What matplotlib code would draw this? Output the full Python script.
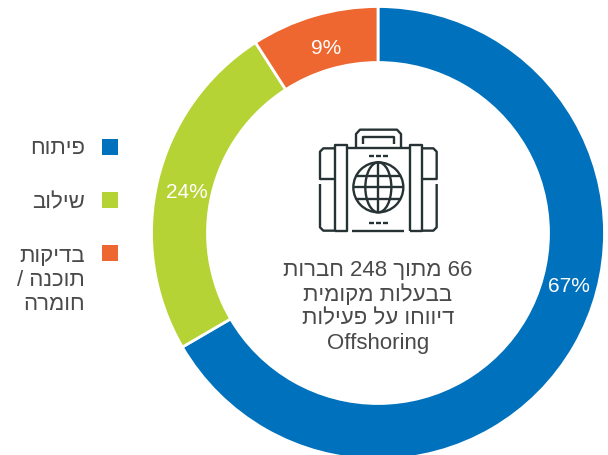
import matplotlib
matplotlib.use("Agg")
import matplotlib.pyplot as plt
from matplotlib.patches import Rectangle, Circle, Ellipse

plt.rcParams['font.family'] = ['Liberation Sans', 'DejaVu Sans']

categories = ["פיתוח", "שילוב", "בדיקות\nתוכנה /\nחומרה"]
values = [66.6, 24.3, 9.1]
colors = ["#0071BC", "#B5D334", "#EE6730"]
center_lines = ["66 מתוך 248 חברות", "בבעלות מקומית", "דיווחו על פעילות", "Offshoring"]

H = 456
TEXT = "#4a4a4a"
ICON = "#263233"


def visual(line):
    # matplotlib has no bidi, so hebrew has to be flipped by hand
    words = []
    for w in line.split(" "):
        if any("\u0590" <= ch <= "\u05ff" for ch in w):
            w = w[::-1]
        words.append(w)
    return " ".join(words[::-1])


def y(py):
    return H - py


def icon_line(ax, xs, ys):
    # coords are from the 3x zoom of the icon
    ax.plot([300 + a / 3 for a in xs], [y(120 + b / 3) for b in ys],
            color=ICON, lw=1.7, solid_joinstyle="round", solid_capstyle="butt", zorder=4)


fig = plt.figure(figsize=(6.08, 4.56), dpi=100)
ax = fig.add_axes([0, 0, 1, 1])

ax.pie(values, colors=colors, startangle=90, counterclock=False,
       center=(378, y(234)), radius=226.5, frame=True,
       wedgeprops=dict(width=56, edgecolor="white", linewidth=2))
ax.set_xlim(0, 608)
ax.set_ylim(0, H)
ax.set_aspect("equal")
ax.axis("off")

# percent labels
pct_pos = [(569, 287), (187, 193), (326, 48)]
for v, (px, py) in zip(values, pct_pos):
    ax.text(px, y(py), "%.0f%%" % v, color="white", fontsize=15, ha="center", va="center")

# legend on the left
square_tops = [140, 193, 246]
for i, cat in enumerate(categories):
    ax.add_patch(Rectangle((102, y(square_tops[i] + 16)), 16, 16, color=colors[i], lw=0))
for i, py in zip([0, 1], [149, 203]):
    ax.text(85, y(py), visual(categories[i]), color=TEXT, fontsize=16, ha="right", va="center")
for line, py in zip(categories[2].split("\n"), [256, 281, 305]):
    ax.text(85, y(py), visual(line), color=TEXT, fontsize=16, ha="right", va="center")

# center text
for line, py in zip(center_lines, [271, 295, 319, 343]):
    ax.text(378, y(py), visual(line), color=TEXT, fontsize=16, ha="center", va="center")

# suitcase icon
icon_line(ax, [168, 168, 180, 291, 303, 303], [88, 45, 32, 32, 45, 88])
icon_line(ax, [188, 188, 282, 282], [75, 55, 55, 75])
icon_line(ax, [105, 70, 60, 60, 105], [88, 88, 98, 180, 180])
icon_line(ax, [60, 60, 70, 105], [195, 325, 335, 335])
icon_line(ax, [365, 400, 410, 410, 365], [88, 88, 98, 180, 180])
icon_line(ax, [410, 410, 400, 365], [195, 325, 335, 335])
icon_line(ax, [105, 105, 140, 140, 105], [335, 77, 77, 335, 335])
icon_line(ax, [330, 330, 365, 365, 330], [335, 77, 77, 335, 335])
icon_line(ax, [140, 330], [88, 88])
icon_line(ax, [157, 312], [335, 335])
for zy in [112, 312]:
    for x0 in [207, 228, 250]:
        icon_line(ax, [x0, x0 + 15], [zy, zy])

gx, gy = 300 + 235 / 3, y(120 + 205 / 3)
ax.add_patch(Circle((gx, gy), 25, fill=False, ec=ICON, lw=1.7, zorder=4))
ax.add_patch(Ellipse((gx, gy), 26, 50, fill=False, ec=ICON, lw=1.7, zorder=4))
icon_line(ax, [235, 235], [130, 280])
icon_line(ax, [160, 310], [205, 205])
icon_line(ax, [170, 300], [170, 170])
icon_line(ax, [170, 300], [240, 240])

fig.savefig("out.png", dpi=100, facecolor="white")
